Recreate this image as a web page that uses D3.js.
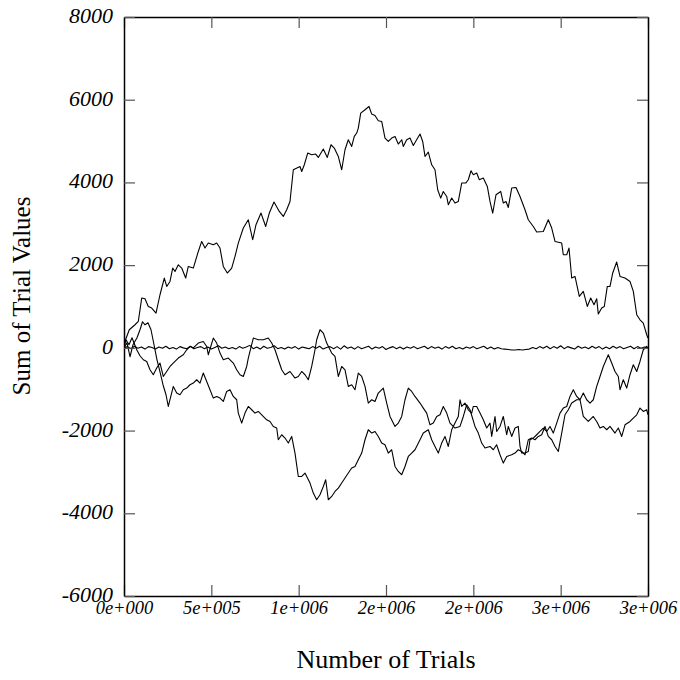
<!DOCTYPE html>
<html>
<head>
<meta charset="utf-8">
<script src="https://cdn.jsdelivr.net/npm/d3@7"></script>
<style>
  body { margin: 0; background: #fff; }
  svg text { font-family: "Liberation Serif", "Times New Roman", serif; fill: #000; }
</style>
</head>
<body>
<div id="chart"></div>
<script>
// x ticks / y ticks
const xTicks = [0, 5e5, 1e6, 1.5e6, 2e6, 2.5e6, 3e6]
const yTicks = [-6000, -4000, -2000, 0, 2000, 4000, 6000, 8000]

// walks: [trials in thousands, sum of trial values]
const walkA = [[0,100],[30.3,438],[63.0,559],[81.9,638],[101.3,1204],[120.2,1187],[139.1,1001],[158.6,962],[183.2,841],[206.1,1284],[230.7,1688],[244.5,1485],[263.4,1606],[278.8,1930],[292.0,1847],[310.9,2009],[330.3,1930],[353.2,1688],[368.1,1968],[396.8,1930],[425.4,2331],[444.8,2573],[463.7,2413],[482.6,2534],[511.3,2493],[530.7,2534],[549.6,2413],[568.5,1968],[591.4,1809],[616.6,1930],[635.5,2210],[654.4,2534],[683.0,2897],[711.6,3097],[736.8,2614],[755.7,2977],[784.4,3259],[811.3,2935],[831.9,3259],[858.8,3525],[889.1,3298],[912.0,3177],[931.5,3339],[950.4,3540],[969.3,4306],[1007.6,4386],[1017.4,4265],[1032.3,4427],[1051.7,4710],[1074.6,4669],[1097.5,4686],[1112.4,4604],[1141.0,4807],[1163.9,4604],[1185.1,4911],[1204.0,4831],[1226.9,4628],[1246.4,4306],[1265.3,4790],[1284.2,5032],[1303.6,4870],[1318.5,5112],[1332.3,5194],[1341.4,5315],[1355.2,5677],[1379.8,5757],[1402.7,5837],[1418.2,5653],[1437.0,5619],[1455.9,5491],[1475.4,5474],[1494.3,5073],[1513.2,4991],[1532.6,5073],[1551.5,5112],[1570.4,4928],[1589.9,5032],[1599.0,4870],[1618.5,5032],[1637.4,5073],[1656.3,4894],[1694.7,5170],[1710.1,4991],[1723.3,4628],[1742.2,4734],[1761.6,4427],[1780.5,4306],[1796.0,3823],[1813.2,3622],[1828.0,3782],[1847.5,3661],[1856.7,3460],[1876.2,3622],[1895.1,3501],[1913.9,3540],[1933.4,3985],[1956.3,3985],[1971.2,4065],[1986.7,4282],[1999.8,4186],[2019.3,4227],[2034.2,4065],[2057.1,4106],[2080.0,3903],[2095.4,3540],[2110.9,3259],[2129.8,3702],[2156.7,3782],[2171.6,3501],[2187.0,3540],[2200.2,3395],[2219.7,3864],[2244.3,3878],[2267.2,3661],[2295.8,3339],[2314.7,3097],[2343.3,2935],[2362.8,2800],[2400.6,2815],[2429.2,3097],[2448.7,2897],[2467.6,2573],[2505.9,2534],[2515.1,2251],[2534.6,2251],[2547.7,2413],[2563.2,1688],[2582.1,1726],[2606.7,1243],[2629.6,1364],[2652.5,1001],[2672.0,1204],[2690.9,1042],[2706.3,1187],[2715.5,817],[2735.0,962],[2749.8,1001],[2767.0,1485],[2782.5,1485],[2797.9,1809],[2820.8,2075],[2839.7,1726],[2868.3,1688],[2897.0,1606],[2915.9,1364],[2935.4,800],[2954.2,679],[2973.1,600],[2992.6,317],[3000,237]]

const walkC = [[0,0],[11.5,196],[28.6,75],[45.8,244],[72.7,-46],[91.6,-191],[110.5,-288],[130.0,-329],[148.9,-530],[167.7,-650],[187.2,-488],[206.1,-368],[225.0,-692],[263.4,-450],[292.0,-329],[310.9,-247],[339.5,-167],[359.0,-46],[377.9,34],[396.8,0],[425.4,116],[454.0,155],[473.5,34],[482.6,-167],[511.3,237],[530.7,116],[549.6,-126],[568.5,-288],[597.1,-247],[625.8,-368],[645.2,-530],[664.1,-650],[683.0,-692],[702.5,-450],[711.6,-247],[740.3,237],[768.9,196],[797.5,196],[826.1,237],[845.6,116],[864.5,-46],[883.4,-288],[902.9,-530],[921.8,-650],[950.4,-571],[979.0,-730],[997.9,-692],[1017.4,-571],[1036.3,-650],[1055.2,-771],[1074.6,-450],[1093.5,-46],[1103.2,196],[1122.1,438],[1141.0,358],[1160.5,116],[1189.1,-126],[1208.0,-208],[1226.9,-692],[1246.4,-450],[1265.3,-530],[1284.2,-933],[1303.6,-892],[1322.5,-1013],[1341.4,-609],[1360.9,-692],[1379.8,-933],[1398.7,-1335],[1418.2,-1255],[1437.0,-1296],[1455.9,-1093],[1484.5,-972],[1504.0,-1335],[1522.9,-1659],[1551.5,-1900],[1570.4,-1819],[1589.9,-1659],[1608.8,-1255],[1627.7,-972],[1647.1,-1054],[1666.0,-1175],[1694.7,-1335],[1713.6,-1456],[1733.0,-1577],[1751.9,-1860],[1770.8,-1819],[1790.3,-1659],[1809.2,-1618],[1828.1,-1417],[1847.5,-1577],[1866.4,-1819],[1895.0,-1939],[1923.7,-1900],[1942.6,-1659],[1962.0,-1376],[1980.9,-1497],[2009.5,-1900],[2028.4,-2060],[2047.9,-2302],[2066.8,-2423],[2095.4,-2384],[2114.3,-2464],[2133.2,-2343],[2152.7,-2585],[2171.6,-2786],[2191.0,-2626],[2219.6,-2585],[2238.6,-2544],[2257.4,-2464],[2276.9,-2505],[2295.8,-2585],[2314.7,-2222],[2334.2,-2181],[2353.1,-2222],[2372.0,-2142],[2391.4,-2101],[2410.3,-1900],[2429.2,-2142],[2448.7,-2222],[2467.6,-2384],[2486.5,-2505],[2506.0,-2060],[2524.8,-1618],[2543.7,-1497],[2563.2,-1335],[2591.8,-1255],[2610.7,-1255],[2629.6,-1659],[2658.2,-1780],[2686.9,-1659],[2706.3,-1780],[2725.2,-1939],[2744.1,-1900],[2763.6,-1980],[2782.5,-1900],[2811.1,-2060],[2830.0,-1939],[2849.5,-2142],[2868.4,-1860],[2897.0,-1780],[2915.9,-1697],[2935.4,-1618],[2954.2,-1456],[2973.1,-1538],[2992.6,-1497],[3000,-1618]]

const walkD = [[0,0],[17.2,123],[34.4,-215],[51.5,75],[74.4,244],[91.6,438],[105.9,631],[120.2,558],[137.4,607],[154.6,438],[171.8,75],[188.9,-288],[206.1,-578],[223.3,-892],[240.5,-1134],[253.6,-1417],[282.3,-933],[301.7,-1093],[320.6,-1134],[339.5,-1013],[359.0,-972],[377.9,-892],[396.8,-851],[416.2,-771],[435.1,-851],[454.0,-609],[473.5,-812],[492.4,-1013],[511.3,-1215],[530.7,-1175],[549.6,-1215],[568.5,-1296],[587.9,-1054],[606.9,-1013],[625.8,-1175],[645.2,-1255],[654.4,-1577],[673.8,-1819],[692.7,-1577],[711.6,-1417],[731.1,-1497],[750.0,-1577],[768.9,-1538],[788.4,-1618],[817.0,-1739],[835.9,-1780],[854.8,-1900],[874.2,-1939],[883.4,-2222],[902.9,-2101],[921.8,-2181],[940.7,-2302],[960.1,-2142],[979.0,-2544],[997.9,-3110],[1017.4,-3110],[1036.3,-3027],[1064.9,-3269],[1083.8,-3511],[1103.2,-3673],[1122.1,-3552],[1141.0,-3351],[1154.8,-3189],[1169.7,-3673],[1189.1,-3593],[1208.0,-3472],[1226.9,-3391],[1246.4,-3269],[1265.3,-3148],[1284.2,-3027],[1303.6,-2906],[1322.5,-2868],[1341.4,-2706],[1360.9,-2544],[1379.8,-2222],[1398.7,-1980],[1418.2,-2060],[1437.0,-2021],[1455.9,-2142],[1475.4,-2302],[1494.3,-2343],[1513.2,-2544],[1532.6,-2464],[1551.5,-2868],[1570.4,-2989],[1589.9,-3068],[1608.8,-2868],[1627.7,-2626],[1647.1,-2544],[1666.0,-2464],[1694.7,-2222],[1713.6,-2060],[1742.2,-1980],[1761.6,-2222],[1780.5,-2384],[1799.4,-2544],[1818.8,-2302],[1837.8,-2142],[1856.7,-2384],[1876.1,-1980],[1895.0,-1819],[1913.9,-1659],[1923.7,-1255],[1933.4,-1417],[1952.3,-1335],[1971.2,-1497],[1990.6,-1577],[1999.8,-1417],[2019.3,-1417],[2038.2,-1577],[2057.1,-1739],[2076.5,-1939],[2095.4,-1819],[2105.2,-2142],[2124.0,-1659],[2133.8,-2021],[2152.7,-1900],[2171.6,-1659],[2191.0,-2101],[2200.2,-1900],[2219.6,-2142],[2238.6,-1939],[2257.4,-1900],[2267.2,-2384],[2276.9,-2544],[2295.8,-2544],[2314.7,-2505],[2324.4,-2222],[2343.3,-2181],[2362.8,-2101],[2381.7,-2021],[2400.6,-1939],[2420.1,-2021],[2438.9,-1900],[2457.8,-2060],[2477.3,-1819],[2496.2,-1577],[2515.1,-1456],[2534.6,-1417],[2553.4,-1175],[2572.3,-1013],[2591.8,-1175],[2610.7,-1255],[2629.6,-1093],[2649.1,-1255],[2667.9,-1335],[2686.9,-1255],[2706.3,-933],[2725.2,-692],[2744.1,-450],[2772.7,-167],[2792.2,-368],[2811.1,-571],[2830.0,-692],[2839.7,-1013],[2858.6,-771],[2878.1,-972],[2897.0,-650],[2915.9,-409],[2935.4,-571],[2954.2,-329],[2973.1,-46],[2992.6,34],[3000,-5]]

// near-flat walk, evenly spaced samples over 0..3e6
const walkE = [0,30,-20,40,-10,20,-30,30,10,-30,
  20,-10,40,-20,10,-30,30,0,-20,40,
  -20,10,30,-20,20,-30,10,50,-10,20,
  -20,10,-30,30,-10,20,60,-20,20,-30,
  40,-10,10,50,-20,10,-30,20,-10,30,
  -30,20,0,-20,30,-10,40,-30,10,30,
  -20,30,-30,50,-10,20,-30,30,-20,10,
  40,-30,20,-10,30,-40,0,30,-20,20,
  -30,20,-10,30,-20,10,40,-20,30,-10,
  20,-30,30,-10,40,-20,10,-30,20,-10,
  30,-20,10,40,-20,20,-30,10,-20,-30,
  -40,-50,-50,-40,-50,-40,-30,10,-20,30,
  -10,40,-20,30,-10,50,-20,30,0,-30,
  40,-10,20,-20,40,-10,30,-30,20,-20,
  40,-10,30,-20,10,40,-20,30,-10,20,
  0]

const W = 680, H = 680
const margin = { top: 17, right: 32, bottom: 84, left: 124 }
const w = W - margin.left - margin.right
const h = H - margin.top - margin.bottom

const svg = d3.select('#chart').append('svg')
    .attr('width', W)
    .attr('height', H)

const g = svg.append('g').attr('transform', `translate(${margin.left},${margin.top})`)

const x = d3.scaleLinear().domain([0, 3e6]).range([0, w])
const y = d3.scaleLinear().domain([-6000, 8000]).range([h, 0])

// 5e+005 style labels
const expFmt = (d) => {
    let s = d.toExponential(0)
    let [m, e] = s.split('e')
    let sign = e[0]
    let num = e.slice(1).padStart(3, '0')
    return m + 'e' + sign + num
}

g.append('defs').append('clipPath').attr('id', 'clip')
    .append('rect').attr('width', w).attr('height', h)

const line = d3.line()
    .x(d => x(d[0]))
    .y(d => y(d[1]))

const series = [walkA, walkC, walkD].map(s => s.map(p => [p[0] * 1000, p[1]]))
series.push(walkE.map((v, i) => [i * 3e6 / (walkE.length - 1), v]))

g.append('g').attr('clip-path', 'url(#clip)')
    .selectAll('path')
    .data(series)
    .enter()
    .append('path')
    .attr('d', line)
    .attr('fill', 'none')
    .attr('stroke', '#000')
    .attr('stroke-width', 1.1)
    .attr('stroke-linejoin', 'round')

// axes, ticks pointing inward on every side
const axBottom = g.append('g').attr('transform', `translate(0,${h})`)
    .call(d3.axisBottom(x).tickValues(xTicks).tickSizeInner(-11).tickSizeOuter(0).tickPadding(5).tickFormat(expFmt))
const axTop = g.append('g')
    .call(d3.axisTop(x).tickValues(xTicks).tickSizeInner(-11).tickSizeOuter(0).tickFormat(''))
const axLeft = g.append('g')
    .call(d3.axisLeft(y).tickValues(yTicks).tickSizeInner(-11).tickSizeOuter(0).tickPadding(11).tickFormat(d => String(d)))
const axRight = g.append('g').attr('transform', `translate(${w},0)`)
    .call(d3.axisRight(y).tickValues(yTicks).tickSizeInner(-11).tickSizeOuter(0).tickFormat(''))

g.selectAll('.domain').attr('stroke', '#000').attr('stroke-width', 1.5)
g.selectAll('.tick line').attr('stroke', '#555').attr('stroke-width', 1.2)

axBottom.selectAll('text')
    .style('font-family', '"Liberation Serif", serif')
    .style('font-style', 'italic')
    .style('font-size', '18.5px')
    .attr('fill', '#000')
axLeft.selectAll('text')
    .style('font-family', '"Liberation Serif", serif')
    .style('font-style', 'italic')
    .style('font-size', '22px')
    .attr('dy', '0.25em')
    .attr('fill', '#000')

svg.append('text')
    .attr('x', margin.left + w / 2)
    .attr('y', 668)
    .attr('text-anchor', 'middle')
    .style('font-size', '26px')
    .text('Number of Trials')

svg.append('text')
    .attr('transform', 'translate(30,296) rotate(-90)')
    .attr('text-anchor', 'middle')
    .style('font-size', '25px')
    .text('Sum of Trial Values')
</script>
</body>
</html>
